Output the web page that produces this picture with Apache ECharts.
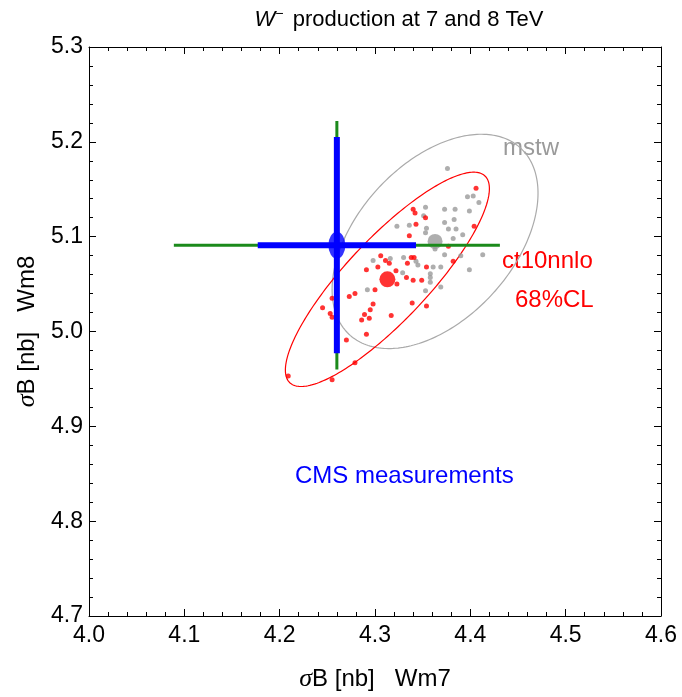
<!DOCTYPE html>
<html>
<head>
<meta charset="utf-8">
<script src="https://cdn.jsdelivr.net/npm/echarts@6/dist/echarts.min.js"></script>
<style>
  html, body { margin: 0; padding: 0; background: #fff; }
  #chart { width: 682px; height: 697px; }
</style>
</head>
<body>
<div id="chart"></div>
<script>
// Axis ranges (nb)
const xRange = [4.0, 4.6];
const yRange = [4.7, 5.3];
const tickStep = 0.1;

// CT10NNLO error-set predictions (W- at 7 TeV, W- at 8 TeV)
const ct10Points = [
  [4.406, 5.151], [4.404, 5.111], [4.340, 5.129], [4.342, 5.125], [4.343, 5.113],
  [4.336, 5.101], [4.353, 5.120], [4.377, 5.090], [4.382, 5.074], [4.354, 5.068],
  [4.349, 5.054], [4.354, 5.027], [4.306, 5.080], [4.311, 5.075], [4.315, 5.072],
  [4.303, 5.068], [4.291, 5.065], [4.322, 5.064], [4.338, 5.078], [4.341, 5.078],
  [4.334, 5.072], [4.333, 5.057], [4.340, 5.054], [4.323, 5.050], [4.300, 5.044],
  [4.279, 5.040], [4.273, 5.037], [4.255, 5.035], [4.245, 5.025], [4.253, 5.019],
  [4.255, 5.015], [4.339, 5.030], [4.298, 5.029], [4.295, 5.023], [4.289, 5.018],
  [4.294, 5.014], [4.286, 5.012], [4.317, 5.017], [4.291, 4.997], [4.270, 4.991],
  [4.279, 4.967], [4.255, 4.949], [4.209, 4.953]
];

// MSTW error-set predictions
const mstwPoints = [
  [4.376, 5.172], [4.397, 5.142], [4.403, 5.143], [4.409, 5.136], [4.353, 5.131],
  [4.373, 5.129], [4.384, 5.129], [4.399, 5.127], [4.351, 5.122], [4.373, 5.115],
  [4.383, 5.118], [4.354, 5.109], [4.377, 5.108], [4.385, 5.108], [4.353, 5.104],
  [4.392, 5.102], [4.382, 5.098], [4.323, 5.111], [4.336, 5.112], [4.373, 5.081],
  [4.390, 5.080], [4.413, 5.081], [4.399, 5.065], [4.361, 5.068], [4.369, 5.068],
  [4.358, 5.061], [4.358, 5.057], [4.358, 5.052], [4.369, 5.047], [4.353, 5.043],
  [4.363, 5.087], [4.298, 5.075], [4.316, 5.077], [4.329, 5.062], [4.292, 5.044],
  [4.330, 5.078], [4.343, 5.074], [4.345, 5.070]
];

// Central predictions
const ct10Central = [4.313, 5.055];
const mstwCentral = [4.363, 5.095];

// 68% CL ellipses: centre x, centre y, half-extent x, half-extent y, correlation
const ct10Ellipse = [4.313, 5.055, 0.107, 0.113, 0.846];
const mstwEllipse = [4.363, 5.095, 0.108, 0.113, 0.45];

// CMS measurement: central value, inner and total half-errors (x, y)
const cmsCentral = [4.26, 5.091];
const cmsInner = [0.083, 0.114];
const cmsTotal = [0.171, 0.131];

const FONT = '"Liberation Sans", Arial, Helvetica, sans-serif';
const RED = '#ff0000';
const GRAY = '#9a9a9a';
const BLUE = '#0000ff';
const GREEN = '#1b8a1b';

const chart = echarts.init(document.getElementById('chart'), null, { renderer: 'canvas' });

function ellipseSeries(par, color, z) {
  return {
    type: 'custom',
    coordinateSystem: 'cartesian2d',
    silent: true,
    z: z,
    data: [par],
    renderItem: function (params, api) {
      const cx = par[0], cy = par[1], sx = par[2], sy = par[3];
      const delta = Math.acos(par[4]);
      const pts = [];
      const n = 240;
      for (let i = 0; i <= n; i++) {
        const t = (i / n) * 2 * Math.PI;
        pts.push(api.coord([cx + sx * Math.cos(t), cy + sy * Math.cos(t - delta)]));
      }
      return {
        type: 'polyline',
        shape: { points: pts },
        style: { stroke: color, lineWidth: 1.2, fill: null }
      };
    }
  };
}

function barSeries(a, b, color, width, z) {
  return {
    type: 'line',
    data: [a, b],
    symbol: 'none',
    silent: true,
    z: z,
    lineStyle: { color: color, width: width, cap: 'butt' }
  };
}

function frameAxis(pos, range, extra) {
  return Object.assign({
    type: 'value',
    position: pos,
    min: range[0],
    max: range[1],
    interval: tickStep,
    axisLine: { show: true, onZero: false, lineStyle: { color: '#000', width: 1 } },
    axisTick: { show: true, inside: true, length: 7, lineStyle: { color: '#000', width: 1 } },
    minorTick: { show: true, splitNumber: 5, length: 4, lineStyle: { color: '#000', width: 1 } },
    splitLine: { show: false },
    minorSplitLine: { show: false },
    axisLabel: { show: false }
  }, extra || {});
}

const axisNameRich = {
  i: { fontFamily: '"Liberation Serif", "DejaVu Serif", serif', fontStyle: 'italic', fontSize: 26, color: '#000' },
  t: { fontFamily: FONT, fontSize: 24, color: '#000' }
};

const cx = cmsCentral[0], cy = cmsCentral[1];

const option = {
  animation: false,
  backgroundColor: '#fff',
  title: {
    text: '{w|W}{s|−} production at 7 and 8 TeV',
    left: 394,
    top: 2,
    textAlign: 'center',
    textStyle: {
      fontFamily: FONT, fontSize: 22, fontWeight: 'normal', color: '#000',
      rich: {
        w: { fontFamily: FONT, fontStyle: 'italic', fontSize: 22, color: '#000', lineHeight: 26 },
        s: { fontFamily: FONT, fontSize: 14, color: '#000', verticalAlign: 'top', lineHeight: 14, padding: [0, 3, 0, 0] }
      }
    }
  },
  grid: { left: 89, right: 21, top: 47, bottom: 77, containLabel: false },
  xAxis: [
    frameAxis('bottom', xRange, {
      axisLabel: { show: true, color: '#000', fontFamily: FONT, fontSize: 23, margin: 8,
        formatter: v => v.toFixed(1) },
      name: '{i|σ}{t|B [nb]   Wm7}',
      nameLocation: 'middle',
      nameGap: 50,
      nameTextStyle: { rich: axisNameRich }
    }),
    frameAxis('top', xRange)
  ],
  yAxis: [
    frameAxis('left', yRange, {
      axisLabel: { show: true, color: '#000', fontFamily: FONT, fontSize: 23, margin: 6,
        formatter: v => v.toFixed(1) },
      name: '{i|σ}{t|B [nb]   Wm8}',
      nameLocation: 'middle',
      nameGap: 46,
      nameRotate: 90,
      nameTextStyle: { rich: axisNameRich }
    }),
    frameAxis('right', yRange)
  ],
  graphic: [
    { type: 'text', left: 503, top: 136, silent: true,
      style: { text: 'mstw', fill: GRAY, font: '24px ' + FONT } },
    { type: 'text', left: 502, top: 249, silent: true,
      style: { text: 'ct10nnlo', fill: RED, font: '24px ' + FONT } },
    { type: 'text', left: 515, top: 288, silent: true,
      style: { text: '68%CL', fill: RED, font: '24px ' + FONT } },
    { type: 'text', left: 295, top: 464, silent: true,
      style: { text: 'CMS measurements', fill: BLUE, font: '24px ' + FONT } }
  ],
  series: [
    ellipseSeries(mstwEllipse, '#aaaaaa', 2),
    ellipseSeries(ct10Ellipse, RED, 3),
    {
      type: 'scatter', data: mstwPoints, symbol: 'circle', symbolSize: 5, z: 4, silent: true,
      itemStyle: { color: GRAY }
    },
    {
      type: 'scatter', data: ct10Points, symbol: 'circle', symbolSize: 5, z: 5, silent: true,
      itemStyle: { color: RED }
    },
    {
      type: 'scatter', data: [mstwCentral], symbol: 'circle', symbolSize: 15, z: 6, silent: true,
      itemStyle: { color: GRAY }
    },
    {
      type: 'scatter', data: [ct10Central], symbol: 'circle', symbolSize: 16, z: 6, silent: true,
      itemStyle: { color: RED }
    },
    barSeries([cx - cmsTotal[0], cy], [cx + cmsTotal[0], cy], GREEN, 3, 7),
    barSeries([cx, cy - cmsTotal[1]], [cx, cy + cmsTotal[1]], GREEN, 3, 7),
    barSeries([cx - cmsInner[0], cy], [cx + cmsInner[0], cy], BLUE, 6, 8),
    barSeries([cx, cy - cmsInner[1]], [cx, cy + cmsInner[1]], BLUE, 6, 8),
    {
      type: 'scatter', data: [cmsCentral], symbol: 'circle', symbolSize: [17, 27], z: 9, silent: true,
      itemStyle: { color: BLUE }
    }
  ]
};

chart.setOption(option);
</script>
</body>
</html>
